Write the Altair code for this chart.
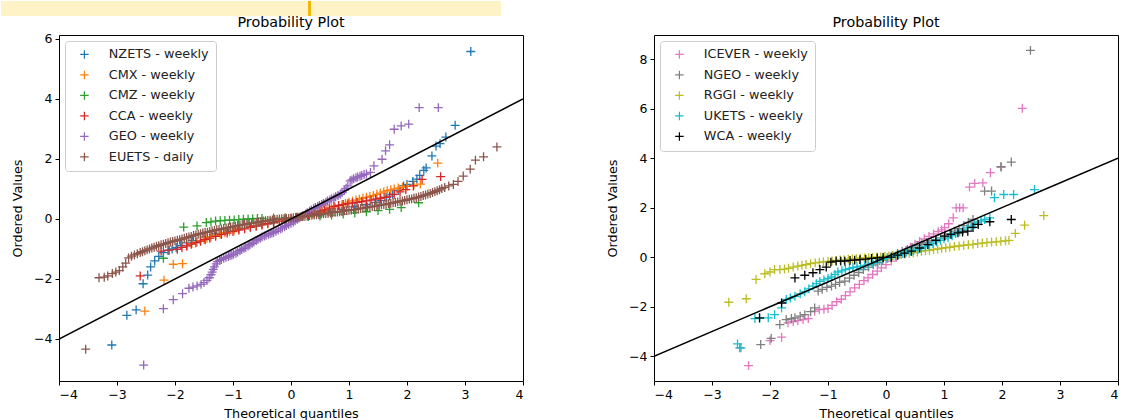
import altair as alt
import pandas as pd

# ---------------- Left panel data ----------------
left_names = ["NZETS - weekly", "CMX - weekly", "CMZ - weekly", "CCA - weekly", "GEO - weekly", "EUETS - daily"]
left_colors = ["#1f77b4", "#ff7f0e", "#2ca02c", "#d62728", "#9467bd", "#8c564b"]

nzets_x = [-3.09, -2.83, -2.67, -2.55, -2.47, -2.42, -2.35, -2.28, -2.2, -2.12, -2.05, -1.98, -1.9, -1.8, -1.7,
           -1.5, -1.3, -1.1, -0.9, -0.7, -0.5, -0.3, -0.1, 0.1, 0.3, 0.5, 0.7, 0.9, 1.1, 1.3, 1.45, 1.55, 1.65,
           1.75, 1.85, 1.94, 2.0, 2.1, 2.17, 2.22, 2.29, 2.33, 2.43, 2.5, 2.57, 2.67, 2.83, 3.1]
nzets_y = [-4.2, -3.21, -3.03, -2.16, -1.87, -1.6, -1.4, -1.25, -1.12, -1.05, -1.0, -0.95, -0.88, -0.8, -0.72,
           -0.6, -0.5, -0.4, -0.32, -0.25, -0.17, -0.1, -0.03, 0.03, 0.1, 0.17, 0.25, 0.32, 0.4, 0.48, 0.55, 0.62, 0.72,
           0.82, 0.95, 1.1, 1.15, 1.25, 1.33, 1.45, 1.62, 1.7, 2.1, 2.43, 2.51, 2.73, 3.12, 5.58]

cmx_x = [-2.52, -2.19, -2.03, -1.87, -1.79, -1.71, -1.62, -1.56, -1.5, -1.45, -1.38, -1.3, -1.22, -1.14, -1.06,
         -0.98, -0.9, -0.8, -0.7, -0.6, -0.5, -0.4, -0.3, -0.2, -0.1, 0.0, 0.1, 0.2, 0.3, 0.38, 0.46, 0.54, 0.62,
         0.7, 0.76, 0.82, 0.88, 0.94, 1.0, 1.06, 1.12, 1.18, 1.24, 1.3, 1.36, 1.42, 1.48, 1.54, 1.6, 1.66, 1.72,
         1.78, 1.85, 1.92, 2.0, 2.12, 2.23, 2.53]
cmx_y = [-3.07, -2.04, -1.51, -1.49, -0.9, -0.82, -0.77, -0.73, -0.68, -0.64, -0.6, -0.55, -0.5, -0.46, -0.42,
         -0.38, -0.34, -0.3, -0.26, -0.22, -0.18, -0.14, -0.11, -0.07, -0.04, 0.0, 0.04, 0.08, 0.13, 0.17, 0.21, 0.26,
         0.31, 0.36, 0.4, 0.44, 0.48, 0.52, 0.56, 0.6, 0.63, 0.66, 0.69, 0.72, 0.75, 0.78, 0.82, 0.86, 0.9, 0.94,
         0.97, 1.0, 1.03, 1.06, 1.09, 1.13, 1.16, 1.86]

cmz_x = [-2.2, -1.85, -1.62, -1.46, -1.38, -1.3, -1.22, -1.14, -1.06, -0.98, -0.9, -0.82, -0.74, -0.66, -0.58,
         -0.5, -0.3, -0.1, 0.1, 0.3, 0.5, 0.7, 0.9, 1.1, 1.3, 1.5, 1.7, 1.9, 2.2]
cmz_y = [-1.31, -0.27, -0.23, -0.12, -0.1, -0.07, -0.06, -0.05, -0.04, -0.03, -0.02, -0.01, 0.0, 0.01, 0.02,
         0.02, 0.03, 0.04, 0.06, 0.08, 0.1, 0.13, 0.16, 0.2, 0.24, 0.28, 0.32, 0.38, 0.54]

cca_x = [-2.6, -2.24, -2.1, -1.96, -1.88, -1.8, -1.72, -1.64, -1.56, -1.48, -1.4, -1.3, -1.2, -1.1, -1.0,
         -0.9, -0.8, -0.7, -0.6, -0.5, -0.4, -0.3, -0.2, -0.1, 0.0, 0.1, 0.2, 0.3, 0.4, 0.5, 0.58, 0.66, 0.74,
         0.82, 0.9, 0.98, 1.06, 1.14, 1.22, 1.3, 1.38, 1.46, 1.54, 1.62, 1.7, 1.78, 1.88, 1.98, 2.11, 2.26, 2.58]
cca_y = [-1.9, -1.07, -1.04, -1.01, -0.95, -0.9, -0.84, -0.79, -0.74, -0.69, -0.64, -0.58, -0.52, -0.47, -0.42,
         -0.37, -0.33, -0.28, -0.24, -0.2, -0.16, -0.12, -0.08, -0.04, 0.0, 0.04, 0.09, 0.14, 0.19, 0.25, 0.3, 0.36,
         0.42, 0.45, 0.48, 0.51, 0.53, 0.55, 0.58, 0.6, 0.63, 0.66, 0.69, 0.72, 0.76, 0.82, 0.9, 0.98, 1.1, 1.32, 1.41]

geo_x = [-2.54, -2.2, -2.03, -1.87, -1.76, -1.69, -1.62, -1.55, -1.5, -1.45, -1.41, -1.38, -1.36, -1.34, -1.32,
         -1.29, -1.27, -1.23, -1.2, -1.16, -1.12, -1.08, -1.05, -1.02, -0.99, -0.95, -0.92, -0.88, -0.85, -0.81,
         -0.78, -0.74, -0.71, -0.67, -0.64, -0.6, -0.57, -0.53, -0.5, -0.46, -0.43, -0.39, -0.36, -0.33, -0.3,
         -0.26, -0.22, -0.18, -0.15, -0.11, -0.08, -0.04, 0.0, 0.04, 0.07, 0.11, 0.14, 0.18, 0.21, 0.25,
         0.28, 0.32, 0.35, 0.39, 0.42, 0.46, 0.49, 0.53, 0.56, 0.6, 0.63, 0.67, 0.7, 0.74, 0.77,
         0.81, 0.85, 0.88, 0.92, 0.95, 0.98, 1.02, 1.05, 1.08, 1.12, 1.15, 1.19, 1.22, 1.26, 1.3,
         1.37, 1.43, 1.57, 1.63, 1.7, 1.78, 1.9, 2.03, 2.21, 2.54]
geo_y = [-4.87, -2.99, -2.69, -2.49, -2.31, -2.27, -2.23, -2.18, -2.12, -2.05, -1.96, -1.86, -1.77, -1.68, -1.6,
         -1.5, -1.42, -1.38, -1.35, -1.31, -1.28, -1.25, -1.22, -1.2, -1.18, -1.14, -1.1, -1.06, -1.02, -0.98,
         -0.94, -0.9, -0.86, -0.81, -0.77, -0.72, -0.68, -0.64, -0.6, -0.57, -0.54, -0.51, -0.49, -0.47, -0.45,
         -0.41, -0.37, -0.33, -0.3, -0.26, -0.22, -0.18, -0.14, -0.1, -0.06, -0.01, 0.03, 0.08, 0.12, 0.17,
         0.21, 0.26, 0.3, 0.34, 0.38, 0.42, 0.45, 0.48, 0.52, 0.56, 0.6, 0.63, 0.67, 0.7, 0.74,
         0.78, 0.82, 0.88, 0.95, 1.02, 1.1, 1.27, 1.3, 1.34, 1.37, 1.4, 1.42, 1.45, 1.48, 1.5,
         1.55, 1.77, 1.99, 2.27, 2.47, 2.99, 3.1, 3.16, 3.71, 3.71]

euets_x = [-3.54, -3.31, -3.22, -3.16, -3.08, -3.02, -2.96, -2.9, -2.85, -2.8, -2.75, -2.7, -2.65,
           -2.6, -2.56, -2.52, -2.48, -2.44, -2.4, -2.36, -2.32, -2.28, -2.24, -2.2, -2.16, -2.12, -2.08, -2.04,
           -2.0, -1.96, -1.92, -1.88, -1.84, -1.8, -1.76, -1.72, -1.68, -1.64, -1.6, -1.56, -1.52, -1.48, -1.44,
           -1.4, -1.36, -1.32, -1.28, -1.24, -1.2, -1.16, -1.12, -1.08, -1.04, -1.0, -0.96, -0.92, -0.88, -0.84,
           -0.8, -0.76, -0.72, -0.68, -0.64, -0.6, -0.56, -0.52, -0.48, -0.44, -0.4, -0.36, -0.32, -0.28, -0.24,
           -0.2, -0.16, -0.12, -0.08, -0.04, 0.0, 0.04, 0.08, 0.12, 0.16, 0.2, 0.24, 0.28, 0.32, 0.36,
           0.4, 0.44, 0.48, 0.52, 0.56, 0.6, 0.64, 0.68, 0.72, 0.76, 0.8, 0.84, 0.88, 0.92, 0.96,
           1.0, 1.04, 1.08, 1.12, 1.16, 1.2, 1.24, 1.28, 1.32, 1.36, 1.4, 1.44, 1.48, 1.52, 1.56,
           1.6, 1.64, 1.68, 1.72, 1.76, 1.8, 1.84, 1.88, 1.92, 1.96, 2.0, 2.04, 2.08, 2.12, 2.16,
           2.2, 2.24, 2.28, 2.32, 2.36, 2.4, 2.44, 2.48, 2.52, 2.56, 2.6,
           2.65, 2.72, 2.8, 2.88, 2.97, 3.09, 3.18, 3.32, 3.55]
euets_y = [-4.34, -1.96, -1.94, -1.9, -1.82, -1.77, -1.72, -1.6, -1.47, -1.3, -1.24, -1.2, -1.16,
           -1.12, -1.09, -1.06, -1.03, -1.0, -0.97, -0.94, -0.91, -0.89, -0.86, -0.84, -0.82, -0.79, -0.77, -0.75,
           -0.73, -0.71, -0.69, -0.67, -0.64, -0.62, -0.6, -0.58, -0.55, -0.53, -0.51, -0.49, -0.47, -0.45, -0.44,
           -0.42, -0.4, -0.38, -0.36, -0.35, -0.33, -0.32, -0.3, -0.29, -0.27, -0.26, -0.24, -0.22, -0.21, -0.19,
           -0.18, -0.17, -0.15, -0.14, -0.13, -0.12, -0.1, -0.09, -0.07, -0.06, -0.05, -0.04, -0.03, -0.02, -0.01,
           0.0, 0.01, 0.01, 0.02, 0.02, 0.03, 0.04, 0.05, 0.06, 0.07, 0.08, 0.09, 0.1, 0.11, 0.12,
           0.13, 0.14, 0.15, 0.16, 0.17, 0.18, 0.19, 0.2, 0.21, 0.22, 0.23, 0.24, 0.25, 0.27, 0.28,
           0.29, 0.3, 0.31, 0.32, 0.34, 0.35, 0.36, 0.37, 0.39, 0.4, 0.41, 0.42, 0.44, 0.45, 0.47,
           0.48, 0.49, 0.51, 0.52, 0.54, 0.55, 0.57, 0.59, 0.6, 0.62, 0.64, 0.66, 0.67, 0.69, 0.71,
           0.73, 0.75, 0.78, 0.8, 0.83, 0.85, 0.88, 0.91, 0.94, 0.97, 1.01,
           1.05, 1.1, 1.15, 1.25, 1.43, 1.66, 1.96, 2.07, 2.4]

left_xs = [nzets_x, cmx_x, cmz_x, cca_x, geo_x, euets_x]
left_ys = [nzets_y, cmx_y, cmz_y, cca_y, geo_y, euets_y]

# ---------------- Right panel data ----------------
right_names = ["ICEVER - weekly", "NGEO - weekly", "RGGI - weekly", "UKETS - weekly", "WCA - weekly"]
right_colors = ["#e377c2", "#7f7f7f", "#bcbd22", "#17becf", "#000000"]

icever_x = [-2.37, -2.0, -1.8, -1.69, -1.6, -1.52, -1.43, -1.34, -1.23, -1.15, -1.07, -1.0, -0.93, -0.85, -0.77,
            -0.7, -0.62, -0.54, -0.46, -0.38, -0.31, -0.23, -0.15, -0.08, 0.0, 0.09, 0.18, 0.26, 0.34, 0.42,
            0.5, 0.58, 0.66, 0.74, 0.82, 0.9, 0.96, 1.01, 1.08, 1.16, 1.21, 1.27, 1.33, 1.44, 1.53, 1.67, 1.8, 1.99, 2.35]
icever_y = [-4.38, -3.37, -3.23, -2.65, -2.6, -2.56, -2.52, -2.48, -2.18, -2.12, -2.1, -2.07, -1.95, -1.8, -1.7,
            -1.55, -1.4, -1.24, -1.1, -0.95, -0.84, -0.7, -0.56, -0.43, -0.3, -0.16, 0.0, 0.13, 0.27, 0.4,
            0.52, 0.63, 0.74, 0.84, 0.94, 1.03, 1.1, 1.19, 1.35, 1.59, 1.99, 2.0, 1.99, 2.83, 2.98, 3.0, 3.41, 3.64, 6.01]

ngeo_x = [-2.52, -2.16, -1.98, -1.83, -1.72, -1.63, -1.57, -1.48, -1.4, -1.3, -1.23, -1.17, -1.1, -1.02, -0.94,
          -0.87, -0.8, -0.71, -0.63, -0.55, -0.47, -0.39, -0.3, -0.22, -0.14, -0.06, 0.03, 0.11, 0.2, 0.28,
          0.37, 0.45, 0.54, 0.62, 0.7, 0.78, 0.86, 0.94, 1.02, 1.1, 1.18, 1.26, 1.34, 1.42, 1.5,
          1.7, 1.82, 1.98, 2.16, 2.49]
ngeo_y = [-3.66, -3.53, -3.28, -2.72, -2.52, -2.48, -2.45, -2.38, -2.32, -2.2, -2.05, -1.37, -1.3, -1.22, -1.17,
          -1.1, -1.02, -0.97, -0.85, -0.73, -0.62, -0.5, -0.4, -0.31, -0.22, -0.13, -0.03, 0.06, 0.15, 0.23,
          0.31, 0.39, 0.47, 0.54, 0.6, 0.66, 0.71, 0.78, 0.86, 0.95, 1.05, 1.15, 1.27, 1.4, 1.52,
          2.67, 2.67, 3.65, 3.84, 8.35]

rggi_x = [-2.71, -2.41, -2.24, -2.09, -2.0, -1.92, -1.83, -1.75, -1.68, -1.6, -1.52, -1.45, -1.38, -1.3, -1.22,
          -1.15, -1.08, -1.0, -0.93, -0.86, -0.79, -0.72, -0.65, -0.58, -0.51, -0.44, -0.37, -0.3, -0.23, -0.16,
          -0.09, -0.02, 0.05, 0.12, 0.19, 0.26, 0.33, 0.4, 0.47, 0.54, 0.61, 0.68, 0.75, 0.82, 0.89,
          0.96, 1.03, 1.1, 1.18, 1.26, 1.34, 1.42, 1.5, 1.58, 1.66, 1.74, 1.82, 1.9, 1.98, 2.06,
          2.12, 2.23, 2.39, 2.72]
rggi_y = [-1.82, -1.68, -0.9, -0.67, -0.6, -0.5, -0.5, -0.48, -0.45, -0.4, -0.36, -0.33, -0.3, -0.26, -0.23,
          -0.21, -0.19, -0.17, -0.15, -0.13, -0.11, -0.1, -0.08, -0.07, -0.06, -0.04, -0.03, -0.02, -0.01, 0.0,
          0.01, 0.03, 0.05, 0.07, 0.09, 0.11, 0.13, 0.16, 0.18, 0.21, 0.24, 0.26, 0.28, 0.31, 0.33,
          0.36, 0.38, 0.4, 0.43, 0.45, 0.48, 0.5, 0.52, 0.55, 0.57, 0.59, 0.61, 0.62, 0.64, 0.66,
          0.68, 0.96, 1.29, 1.68]

ukets_x = [-2.56, -2.5, -2.26, -2.18, -2.03, -1.92, -1.8, -1.72, -1.65, -1.57, -1.48, -1.4, -1.33, -1.26, -1.2,
           -1.14, -1.07, -1.0, -0.94, -0.88, -0.83, -0.76, -0.7, -0.63, -0.57, -0.5, -0.44, -0.37, -0.31, -0.24,
           -0.18, -0.11, -0.05, 0.02, 0.09, 0.16, 0.22, 0.29, 0.35, 0.42, 0.48, 0.55, 0.61, 0.68, 0.74,
           0.81, 0.87, 0.94, 1.0, 1.07, 1.14, 1.2, 1.27, 1.33, 1.4, 1.47, 1.53, 1.58, 1.64, 1.7,
           1.79, 1.87, 2.03, 2.2, 2.56]
ukets_y = [-3.5, -3.66, -2.48, -2.47, -2.45, -2.32, -2.05, -1.71, -1.65, -1.58, -1.48, -1.4, -1.28, -1.17, -1.07,
           -0.98, -0.92, -0.86, -0.8, -0.7, -0.6, -0.55, -0.5, -0.46, -0.42, -0.39, -0.36, -0.33, -0.3, -0.25,
           -0.2, -0.14, -0.08, -0.04, 0.0, 0.05, 0.1, 0.15, 0.2, 0.24, 0.28, 0.31, 0.35, 0.42, 0.48,
           0.55, 0.62, 0.68, 0.74, 0.78, 0.86, 0.95, 1.02, 1.1, 1.18, 1.25, 1.32, 1.4, 1.46, 1.52,
           1.59, 2.4, 2.53, 2.53, 2.73]

wca_x = [-2.18, -1.8, -1.57, -1.4, -1.26, -1.14, -1.03, -0.95, -0.86, -0.78, -0.71, -0.62, -0.54, -0.45, -0.35, -0.25,
         -0.15, -0.05, 0.09, 0.2, 0.32, 0.44, 0.58, 0.72, 0.86, 1.01, 1.12, 1.24, 1.32, 1.41, 1.5, 1.59, 1.79, 2.16]
wca_y = [-2.45, -1.85, -0.84, -0.73, -0.63, -0.5, -0.4, -0.2, -0.16, -0.16, -0.16, -0.13, -0.12, -0.1, -0.08, -0.05,
         -0.03, -0.01, 0.0, 0.08, 0.16, 0.24, 0.37, 0.51, 0.68, 0.85, 0.92, 0.98, 1.01, 1.05, 1.2, 1.32, 1.43, 1.52]

right_xs = [icever_x, ngeo_x, rggi_x, ukets_x, wca_x]
right_ys = [icever_y, ngeo_y, rggi_y, ukets_y, wca_y]

# fitted reference line (slope 1, intercept 0)
line_x = [-4, 4]
line_y = [-4, 4]

panel_titles = ["Probability Plot", "Probability Plot"]
x_ticks = [-4, -3, -2, -1, 0, 1, 2, 3, 4]
left_y_ticks = [-4, -2, 0, 2, 4, 6]
right_y_ticks = [-4, -2, 0, 2, 4, 6, 8]
left_y_domain = [-5.4, 6.13]
right_y_domain = [-5.0, 8.97]

PLUS = "M-1,0L1,0M0,-1L0,1"
FONT = "DejaVu Sans"
PLOT_W, PLOT_H = 464, 346


def banner(fill, x_from, x_to):
    # strip of the page above the figure (screenshot residue)
    return alt.Chart(pd.DataFrame({"k": [0]})).mark_rect(fill=fill, clip=False).encode(
        x=alt.value(x_from), x2=alt.value(x_to), y=alt.value(-34), y2=alt.value(-19)
    )


def title_mark(text):
    return alt.Chart(pd.DataFrame({"t": [text]})).mark_text(
        font=FONT, fontSize=14.3, color="black", align="center", baseline="bottom", clip=False
    ).encode(text="t:N", x=alt.value(PLOT_W / 2), y=alt.value(-5))


def panel(names, colors, xs, ys, ydom, yticks, title, extras):
    rows = []
    k = 0
    for n, xv, yv in zip(names, xs, ys):
        assert len(xv) == len(yv), (n, len(xv), len(yv))
        for a, b in zip(xv, yv):
            rows.append({"series": n, "q": a, "v": b, "idx": k})
            k += 1
    df = pd.DataFrame(rows)
    xsc = alt.Scale(domain=[-4, 4], nice=False, zero=False)
    ysc = alt.Scale(domain=ydom, nice=False, zero=False)
    pts = alt.Chart(df).mark_point(
        shape=PLUS, filled=False, size=80, strokeWidth=1.3, opacity=1, clip=True
    ).encode(
        x=alt.X("q:Q", scale=xsc, axis=alt.Axis(values=x_ticks, format="d", title="Theoretical quantiles")),
        y=alt.Y("v:Q", scale=ysc, axis=alt.Axis(values=yticks, format="d", title="Ordered Values")),
        color=alt.Color(
            "series:N",
            scale=alt.Scale(domain=names, range=colors),
            sort=names,
            legend=alt.Legend(
                title=None, orient="top-left", offset=6, padding=7,
                strokeColor="#cccccc", fillColor="white", cornerRadius=3,
                symbolType=PLUS, symbolSize=72, symbolStrokeWidth=1.2, symbolOffset=6,
                labelFont=FONT, labelFontSize=12.8, labelColor="#222222", labelOffset=18,
                rowPadding=5.5,
            ),
        ),
        order=alt.Order("idx:Q"),
    )
    ldf = pd.DataFrame({"q": line_x, "v": line_y})
    line = alt.Chart(ldf).mark_line(color="black", strokeWidth=1.5, clip=True).encode(
        x=alt.X("q:Q", scale=xsc), y=alt.Y("v:Q", scale=ysc)
    )
    return alt.layer(*extras, title_mark(title), pts, line).properties(width=PLOT_W, height=PLOT_H)


left = panel(left_names, left_colors, left_xs, left_ys, left_y_domain, left_y_ticks, panel_titles[0],
             [banner("#fdf3c6", -58, 442), banner("#f2b705", 249, 252)])
right = panel(right_names, right_colors, right_xs, right_ys, right_y_domain, right_y_ticks, panel_titles[1],
              [banner("white", 0, 10)])

chart = alt.hconcat(left, right, spacing=82).resolve_scale(color="independent").configure_view(
    stroke="black", strokeWidth=1
).configure_axis(
    grid=False, domain=False, ticks=True, tickColor="black", tickSize=4, tickWidth=1,
    labelFont=FONT, labelFontSize=12.5, labelColor="black", labelPadding=3,
    titleFont=FONT, titleFontSize=12.8, titleFontWeight="normal", titleColor="black",
).configure_axisX(titlePadding=7).configure_axisY(titlePadding=9).properties(
    padding={"left": 0, "top": 0, "right": 0, "bottom": 0}, background="white"
)

chart.save("out.html", embed_options={"renderer": "svg", "actions": False})
